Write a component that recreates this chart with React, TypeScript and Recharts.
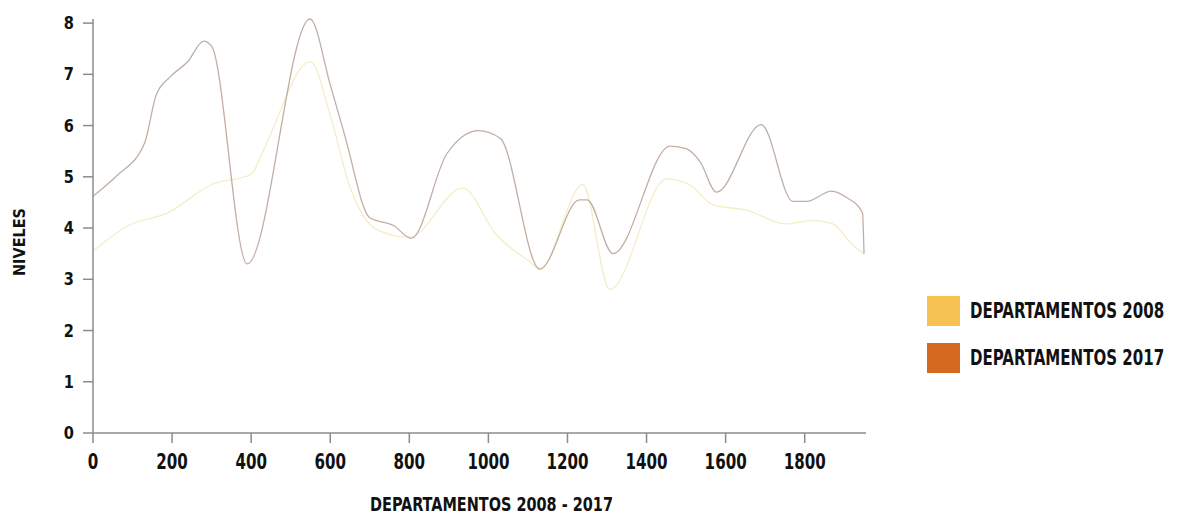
import React from "react"
import { Legend, Line, LineChart, XAxis, YAxis } from "recharts"

// series: [position, nivel]
const DEP_2008: [number, number][] = [
  [0, 3.55], [90, 4.05], [190, 4.3], [300, 4.85], [400, 5.05], [430, 5.5],
  [550, 7.25], [600, 6.2], [650, 4.8], [718, 3.97], [800, 3.82], [935, 4.78],
  [1020, 3.87], [1105, 3.34], [1130, 3.2], [1239, 4.85], [1307, 2.8],
  [1451, 4.96], [1510, 4.84], [1568, 4.45], [1652, 4.35], [1754, 4.08],
  [1821, 4.15], [1871, 4.08], [1921, 3.67], [1950, 3.5],
]

const DEP_2017: [number, number][] = [
  [0, 4.62], [60, 5.02], [130, 5.65], [160, 6.6], [195, 6.95], [240, 7.25],
  [280, 7.65], [300, 7.55], [390, 3.3], [549, 8.08], [600, 6.8], [637, 5.8],
  [700, 4.2], [760, 4.05], [805, 3.8], [895, 5.45], [975, 5.9], [1030, 5.75],
  [1130, 3.2], [1230, 4.55], [1250, 4.55], [1315, 3.5], [1460, 5.6],
  [1500, 5.55], [1535, 5.3], [1577, 4.7], [1690, 6.02], [1770, 4.52],
  [1805, 4.52], [1868, 4.72], [1905, 4.6], [1946, 4.3], [1950, 3.5],
]

const X_TICKS = [0, 200, 400, 600, 800, 1000, 1200, 1400, 1600, 1800]
const Y_TICKS = [0, 1, 2, 3, 4, 5, 6, 7, 8]

const LEGEND_LABELS = ["DEPARTAMENTOS 2008", "DEPARTAMENTOS 2017"]
const LEGEND_COLORS = ["#f6c352", "#d4691f"]

const FONT = "'DejaVu Sans Condensed', 'DejaVu Sans', sans-serif"
const AXIS = "#8c8c8c"
const INK = "#111"

const toRows = (pts: [number, number][]) => pts.map(([x, v]) => ({ x, v }))

// condensed heavy tick labels, squeezed horizontally like the original's display face
function XTick({ x, y, payload }: any) {
  return (
    <text
      transform={`translate(${x},${y + 17}) scale(0.8,1)`}
      textAnchor="middle"
      fill={INK}
      fontSize={21}
      fontFamily={FONT}
      fontWeight={700}
    >
      {payload.value}
    </text>
  )
}

function YTick({ x, y, payload }: any) {
  return (
    <text
      transform={`translate(${x},${y + 6}) scale(0.9,1)`}
      textAnchor="end"
      fill={INK}
      fontSize={18}
      fontFamily={FONT}
      fontWeight={700}
    >
      {payload.value}
    </text>
  )
}

function LegendBlock() {
  return (
    <div style={{ fontFamily: FONT, fontWeight: 700 }}>
      {LEGEND_LABELS.map((label, i) => (
        <div key={label} style={{ display: "flex", alignItems: "center", height: 47, whiteSpace: "nowrap" }}>
          <span style={{ width: 33, height: 30, background: LEGEND_COLORS[i], display: "inline-block", flexShrink: 0 }} />
          <span
            style={{
              marginLeft: 10,
              fontSize: 22,
              color: INK,
              display: "inline-block",
              transform: "scaleX(0.76)",
              transformOrigin: "left center",
            }}
          >
            {label}
          </span>
        </div>
      ))}
    </div>
  )
}

export default function App() {
  return (
    <div style={{ position: "absolute", left: 0, top: 0, background: "#fff" }}>
      <LineChart width={1180} height={516} margin={{ top: 19, right: 314, bottom: 0, left: 0 }}>
        <XAxis
          dataKey="x"
          type="number"
          domain={[0, 1955]}
          ticks={X_TICKS}
          allowDataOverflow
          height={83}
          stroke={AXIS}
          strokeWidth={1.5}
          tickSize={10}
          tickMargin={9}
          tick={<XTick />}
          label={{
            content: ({ viewBox }: any) => (
              <text
                x={viewBox.x + viewBox.width / 2 + 12}
                y={viewBox.y + 78}
                textAnchor="middle"
                fill={INK}
                fontSize={20}
                fontFamily={FONT}
                fontWeight={700}
                textLength={243}
                lengthAdjust="spacingAndGlyphs"
              >
                DEPARTAMENTOS 2008 - 2017
              </text>
            ),
          }}
        />
        <YAxis
          type="number"
          domain={[0, 8]}
          ticks={Y_TICKS}
          width={93}
          stroke={AXIS}
          strokeWidth={1.5}
          tickSize={10}
          tickMargin={9}
          tick={<YTick />}
          label={{
            content: ({ viewBox }: any) => {
              const cx = viewBox.x + 20
              const cy = viewBox.y + viewBox.height / 2 + 16
              return (
                <text
                  x={cx}
                  y={cy}
                  transform={`rotate(-90 ${cx} ${cy})`}
                  textAnchor="middle"
                  dominantBaseline="central"
                  fill={INK}
                  fontSize={15}
                  fontFamily={FONT}
                  fontWeight={700}
                  textLength={68}
                  lengthAdjust="spacingAndGlyphs"
                >
                  NIVELES
                </text>
              )
            },
          }}
        />
        <Line
          data={toRows(DEP_2008)}
          dataKey="v"
          name="DEPARTAMENTOS 2008"
          type="monotone"
          stroke="#f4edc8"
          strokeWidth={1.3}
          dot={false}
          isAnimationActive={false}
        />
        <Line
          data={toRows(DEP_2017)}
          dataKey="v"
          name="DEPARTAMENTOS 2017"
          type="monotone"
          stroke="#c2afa4"
          strokeWidth={1.3}
          dot={false}
          isAnimationActive={false}
        />
        <Legend
          layout="vertical"
          align="center"
          verticalAlign="middle"
          wrapperStyle={{ left: 927, top: 287, width: 253 }}
          content={() => <LegendBlock />}
        />
      </LineChart>
    </div>
  )
}
